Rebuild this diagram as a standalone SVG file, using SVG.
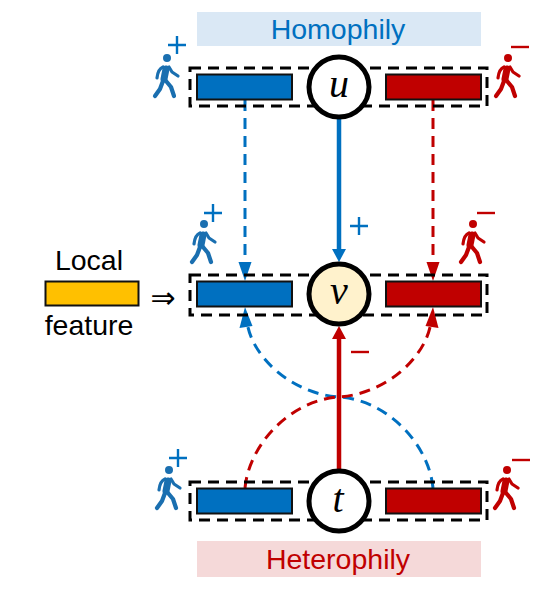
<svg xmlns="http://www.w3.org/2000/svg" width="552" height="591" viewBox="0 0 552 591">
<style>
.t{font-family:"Liberation Sans",Arial,sans-serif;font-size:28.5px;text-anchor:middle}
.m{font-family:"Liberation Serif","Times New Roman",serif;font-style:italic;font-size:40px;text-anchor:middle;fill:#000}
.box{fill:none;stroke:#000;stroke-width:3;stroke-dasharray:11 7}
.bar{stroke:#111;stroke-width:2}
.bl{fill:#0070c0}.rd{fill:#c00000}
.node{fill:#fff;stroke:#000;stroke-width:5}
.sb{stroke:#0070c0;fill:none}.sr{stroke:#c00000;fill:none}
.dash{stroke-width:3;stroke-dasharray:11 7}
.sign{stroke-width:2.4;fill:none}
</style>
<defs>
<g id="walker" fill="none" stroke-linejoin="round" stroke-linecap="round">
<circle cx="0" cy="0" r="2" stroke-width="4"/>
<path d="M-1 11 L-3 21" stroke-width="7"/>
<path d="M-4 9 Q-9 11 -10 20" stroke-width="3.200"/>
<path d="M2 9 L5 14 L11 18" stroke-width="3.200"/>
<path d="M-4 23 L-7 31 L-12 38" stroke-width="4.200"/>
<path d="M-1 23 L4 29 L7 38" stroke-width="4.200"/>
</g>
</defs>
<rect x="197" y="12" width="284" height="34" fill="#dae8f5"/>
<rect x="197" y="541" width="284" height="36" fill="#f5d9d9"/>
<text class="t" x="338" y="39" fill="#0070c0">Homophily</text>
<text class="t" x="338" y="569" fill="#c00000">Heterophily</text>
<g id="local-feature">
<text class="t" x="89" y="270" fill="#000">Local</text>
<rect x="45.500" y="281.500" width="93" height="24" fill="#ffc000" class="bar"/>
<text class="t" x="89" y="335" fill="#000">feature</text>
<text x="163" y="308" font-family="'DejaVu Sans',sans-serif" font-size="30" text-anchor="middle" fill="#000">⇒</text>
</g>
<g id="connectors">
<path class="sb dash" d="M245 100 V266"/>
<path class="bl" d="M245 281 L238.500 262 H251.500 Z"/>
<path class="sr dash" d="M433 100 V266"/>
<path class="rd" d="M433 281 L426.500 262 H439.500 Z"/>
<path class="sb dash" d="M433 488 C429 445 388 400 339 397 C293 394 252 358 247 322"/>
<path class="bl" d="M245 307 L252.500 326 L239.500 328 Z"/>
<path class="sr dash" d="M245 488 C249 445 290 400 339 397 C385 394 426 358 431 322"/>
<path class="rd" d="M433 307 L438.500 328 L425.500 326 Z"/>
<path class="sb" stroke-width="4.500" d="M339 117 V250"/>
<path class="bl" d="M339 262 L332 249 H346 Z"/>
<path class="sr" stroke-width="4.500" d="M339 471 V338"/>
<path class="rd" d="M339 326 L332 339 H346 Z"/>
</g>
<g id="row-u">
<rect class="box" x="190" y="68" width="297" height="38"/>
<rect class="bar bl" x="197" y="74.500" width="95" height="25"/>
<rect class="bar rd" x="386" y="74.500" width="95" height="25"/>
</g>
<g id="node-u"><circle class="node" cx="339" cy="87" r="30"/><text class="m" x="339" y="97">u</text></g>
<g id="row-v">
<rect class="box" x="190" y="275" width="297" height="40"/>
<rect class="bar bl" x="197" y="281.500" width="95" height="25"/>
<rect class="bar rd" x="386" y="281.500" width="95" height="25"/>
</g>
<g id="node-v"><circle cx="339" cy="294" r="30" fill="#fff2cc" stroke="#000" stroke-width="5"/><text class="m" x="339" y="304">v</text></g>
<g id="row-t">
<rect class="box" x="190" y="482" width="297" height="38"/>
<rect class="bar bl" x="197" y="488.500" width="95" height="25"/>
<rect class="bar rd" x="386" y="488.500" width="95" height="25"/>
</g>
<g id="node-t"><circle class="node" cx="339" cy="501" r="30"/><text class="m" x="338" y="512">t</text></g>
<g id="walkers">
<use href="#walker" x="167" y="58" stroke="#1a6fb0"/>
<use href="#walker" x="204" y="224" stroke="#1a6fb0"/>
<use href="#walker" x="169" y="470" stroke="#1a6fb0"/>
<use href="#walker" x="508" y="58" stroke="#c00000"/>
<use href="#walker" x="473" y="224" stroke="#c00000"/>
<use href="#walker" x="507" y="470" stroke="#c00000"/>
</g>
<g id="signs">
<path class="sb sign" d="M168 45 H186 M177 36 V54"/>
<path class="sb sign" d="M204 213 H222 M213 204 V222"/>
<path class="sb sign" d="M350 226 H368 M359 217 V235"/>
<path class="sb sign" d="M169 458 H187 M178 449 V467"/>
<path class="sr sign" d="M511 47 H529"/>
<path class="sr sign" d="M477 213 H495"/>
<path class="sr sign" d="M351 352 H369"/>
<path class="sr sign" d="M512 460 H530"/>
</g>
</svg>
